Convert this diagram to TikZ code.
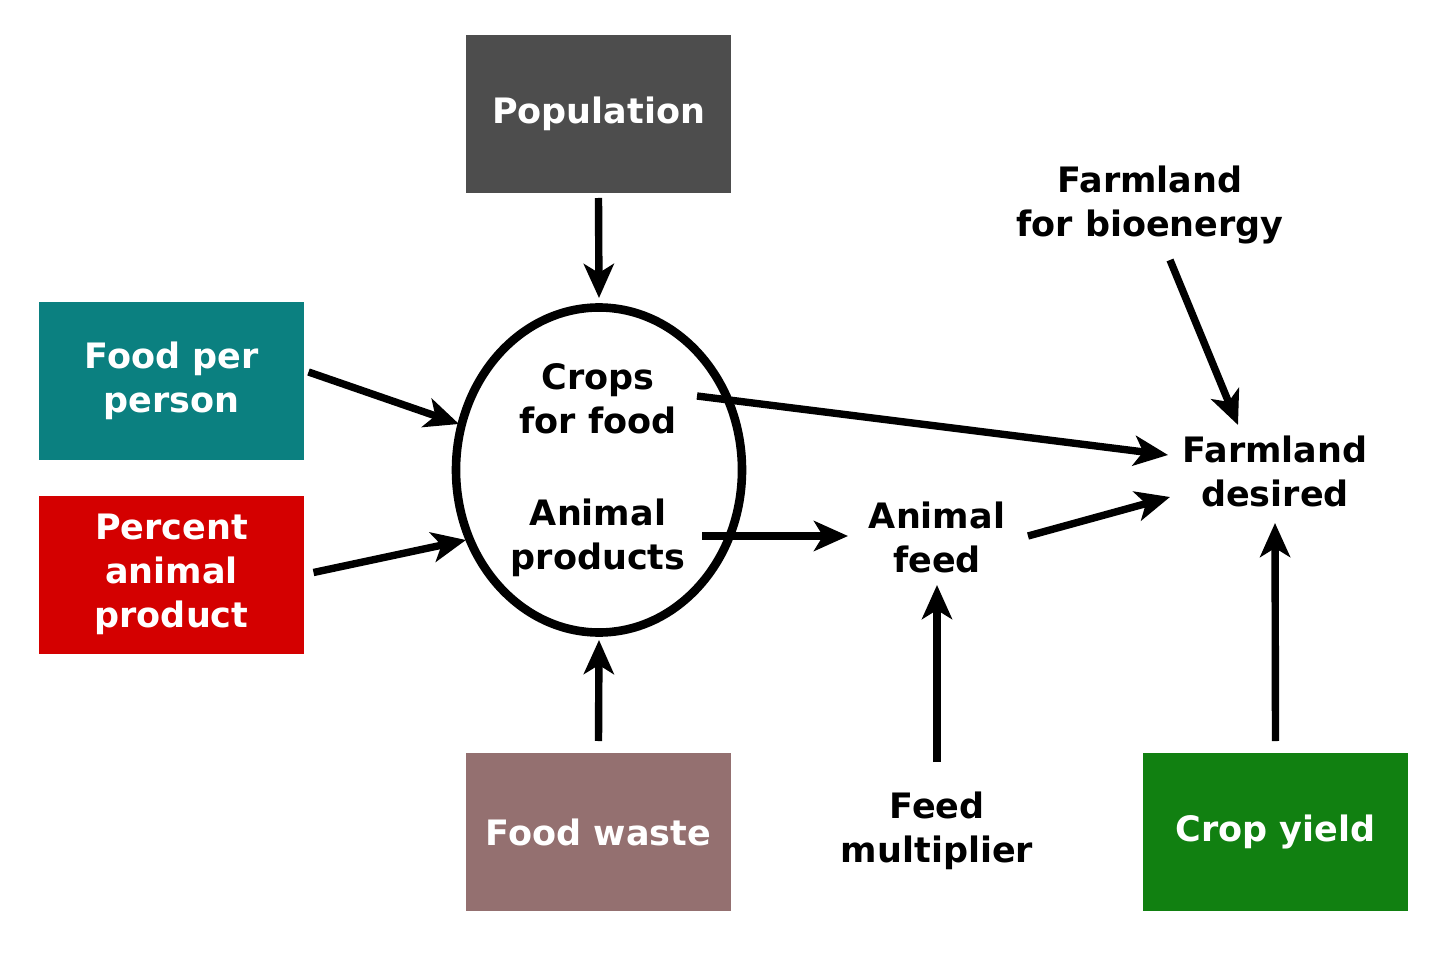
\documentclass[tikz,border=0pt]{standalone}
\usepackage{fontspec}
\setmainfont{DejaVu Sans}
\usetikzlibrary{arrows.meta,shapes.geometric}
\definecolor{popc}{RGB}{77,77,77}
\definecolor{tealc}{RGB}{11,128,128}
\definecolor{redc}{RGB}{212,0,0}
\definecolor{wastec}{RGB}{148,112,112}
\definecolor{greenc}{RGB}{17,128,17}
\tikzset{
  box/.style={rectangle, minimum width=132.5pt, minimum height=79pt, inner sep=0pt, outer sep=0pt, text=white, font=\fontsize{17.5}{22}\selectfont\bfseries, align=center},
  lbl/.style={inner sep=0pt, outer sep=0pt, font=\fontsize{17.5}{22}\selectfont\bfseries, align=center},
  arr/.style={line width=3.7pt, -{Stealth[length=17pt, width=15pt, inset=4.5pt]}},
}
\begin{document}
\begin{tikzpicture}[x=0.5pt,y=-0.5pt]
\useasboundingbox (0,0) rectangle (1450,962);
\node[box, fill=popc] (pop) at (598.5,114) {Population};
\node[box, fill=tealc] (fpp) at (171.5,381) {Food per\\person};
\node[box, fill=redc] (pap) at (171.5,574.5) {Percent\\animal\\product};
\node[box, fill=wastec] (fw) at (598.5,832) {Food waste};
\node[box, fill=greenc] (cy) at (1275.5,832) {Crop yield};
\node[ellipse, draw, line width=4.3pt, minimum width=143pt, minimum height=162.5pt, inner sep=0pt, outer sep=0pt] (ell) at (599,470) {};
\node[lbl] (cff) at (598,399) {Crops\\for food};
\node[lbl] (ap) at (598,538) {Animal\\products};
\node[lbl] (af) at (937,537) {Animal\\feed};
\node[lbl] (fd) at (1275,471) {Farmland\\desired};
\node[lbl] (fb) at (1150,205) {Farmland\\for bioenergy};
\node[lbl] (fm) at (937,831) {Feed\\multiplier};
\draw[arr] ([shift={(0,84)}]pop.center) -- ([shift={(0,-172)}]ell.center);
\draw[arr] ([shift={(0,-91)}]fw.center) -- ([shift={(0,170)}]ell.center);
\draw[arr] ([shift={(137,-9)}]fpp.center) -- ([shift={(-140,-46)}]ell.center);
\draw[arr] ([shift={(142,-2)}]pap.center) -- ([shift={(-133,70)}]ell.center);
\draw[arr] ([shift={(99,-3)}]cff.center) -- ([shift={(-107,-16)}]fd.center);
\draw[arr] ([shift={(104,-2)}]ap.center) -- ([shift={(-89,-1)}]af.center);
\draw[arr] ([shift={(91,-1)}]af.center) -- ([shift={(-105,26)}]fd.center);
\draw[arr] ([shift={(20,55)}]fb.center) -- ([shift={(-37,-46)}]fd.center);
\draw[arr] ([shift={(0,-69)}]fm.center) -- ([shift={(0,48)}]af.center);
\draw[arr] ([shift={(0,-91)}]cy.center) -- ([shift={(0,52)}]fd.center);
\end{tikzpicture}
\end{document}
